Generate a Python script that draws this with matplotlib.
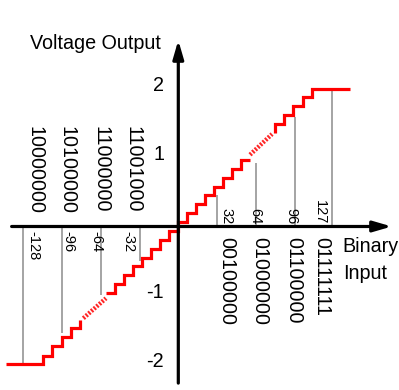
import matplotlib
matplotlib.use("Agg")
import matplotlib.pyplot as plt

plt.rcParams['font.family'] = ['Liberation Sans', 'DejaVu Sans']

# Staircase transfer curve: input code -> output voltage, drawn as three solid runs
low_edges = [-142.3, -111.5, -103.9, -96.3, -88.6, -81.2, -81.2]
low_levels = [-2.0, -1.87, -1.73, -1.60, -1.47, -1.47, -1.35]
mid_edges = [-59.5, -52.1, -44.6, -37.2, -29.8, -22.3, -14.9, -7.4, 0.0,
             7.4, 14.9, 22.3, 29.8, 37.2, 44.6, 52.1, 59.5]
mid_levels = [-0.96, -0.83, -0.70, -0.57, -0.45, -0.32, -0.19, -0.06, 0.06,
              0.19, 0.32, 0.45, 0.57, 0.70, 0.83, 0.96, 0.96]
high_edges = [79.9, 79.9, 87.3, 95.1, 102.7, 110.2, 141.8]
high_levels = [1.35, 1.49, 1.62, 1.75, 1.88, 2.0, 2.0]

# Omitted steps, shown as short dashed runs
gap_codes = [(-78.4, -59.7), (59.2, 77.4)]
gap_volts = [(-1.33, -1.04), (1.04, 1.34)]

# Marked input codes and how far each guide line reaches toward the curve
tick_codes = [-128, -96, -64, -32, 32, 64, 96, 127]
tick_reach = [-2.02, -1.55, -0.99, -0.50, 0.46, 0.92, 1.59, 2.0]
tick_labels = ['-128', '-96', '-64', '-32', '32', '64', '96', '127']
tick_label_x = [-119.6, -90.7, -68.0, -41.5, 39.8, 63.3, 93.0, 117.0]

neg_binary = ['10000000', '10100000', '11000000', '11001000']
neg_binary_x = [-118.7, -91.5, -64.2, -37.8]
pos_binary = ['00100000', '01000000', '01100000', '01111111']
pos_binary_x = [39.8, 67.5, 95.1, 118.2]

volt_ticks = [2, 1, -1, -2]
volt_labels = ['2', '1', '-1', '-2']

fig = plt.figure(figsize=(3.99, 3.90), dpi=100)
ax = fig.add_axes([0, 0, 1, 1])
ax.set_xlim(-147.2, 182.2)
ax.set_ylim(-2.370, 3.283)
ax.axis('off')

red = '#ff0000'
grey = '#8c8c8c'

# guide lines from the axis to the curve
for c, r in zip(tick_codes, tick_reach):
    ax.plot([c, c], [0, r], color=grey, lw=1.1, zorder=1, solid_capstyle='butt')

# staircase
for xs, ys in [(low_edges, low_levels), (mid_edges, mid_levels), (high_edges, high_levels)]:
    ax.plot(xs, ys, drawstyle='steps-post', color=red, lw=2.3, zorder=3,
            solid_joinstyle='miter', solid_capstyle='butt')

for xs, ys in zip(gap_codes, gap_volts):
    ax.plot(xs, ys, color=red, lw=3.2, alpha=0.85, dashes=(0.45, 0.35),
            dash_capstyle='butt', zorder=3)

# axes with arrow heads
arrow = dict(arrowstyle='-|>,head_length=1.1,head_width=0.32', color='black',
             lw=2.3, shrinkA=0, shrinkB=0, mutation_scale=10)
ax.annotate('', xy=(176.2, 0), xytext=(-137.6, 0), arrowprops=arrow, zorder=4)
ax.annotate('', xy=(0, 2.70), xytext=(0, -2.27), arrowprops=arrow, zorder=4)

# small code labels beside the guide lines
for lab, x in zip(tick_labels, tick_label_x):
    if lab.startswith('-'):
        ax.text(x, -0.06, lab, rotation=270, ha='center', va='top', fontsize=10.5)
    else:
        ax.text(x, 0.03, lab, rotation=270, ha='center', va='bottom', fontsize=10.5)

# binary codes
for lab, x in zip(neg_binary, neg_binary_x):
    ax.text(x, 1.45, lab, rotation=270, ha='center', va='top', fontsize=14.2)
for lab, x in zip(pos_binary, pos_binary_x):
    ax.text(x, -0.15, lab, rotation=270, ha='center', va='top', fontsize=14.2)

# voltage labels
for v, lab in zip(volt_ticks, volt_labels):
    ax.text(-11.8, v + 0.04, lab, ha='right', va='center', fontsize=14.2)

ax.text(-122.5, 2.568, 'Voltage Output', ha='left', va='baseline', fontsize=14.2)
ax.text(135.8, -0.37, 'Binary', ha='left', va='baseline', fontsize=14.2)
ax.text(135.8, -0.76, 'Input', ha='left', va='baseline', fontsize=14.2)

fig.savefig('out.png', dpi=100, facecolor='white')
